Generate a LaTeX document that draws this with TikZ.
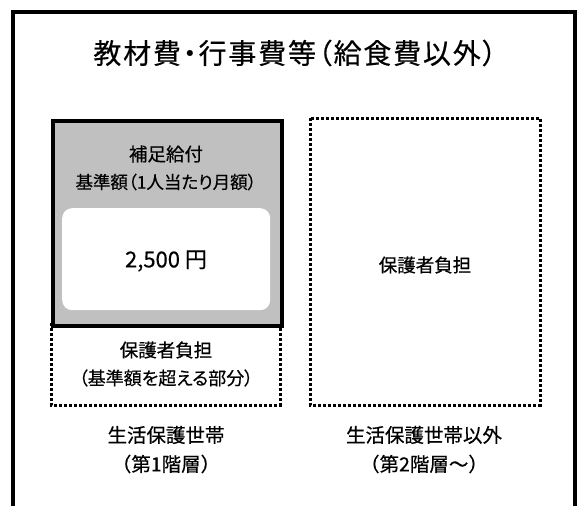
\documentclass[tikz,border=0pt]{standalone}
\usepackage{fontspec}
\setmainfont[FakeBold=0.4]{Noto Sans CJK JP}
\newfontfamily\paltfont[FakeBold=0.4,RawFeature=+palt]{Noto Sans CJK JP}
\newcommand\tsp{\hspace{1.8pt}}
\begin{document}
\begin{tikzpicture}[x=1pt,y=-1pt,
  txt/.style={font=\fontsize{18.5}{22}\selectfont, align=center, inner sep=0pt},
  ptxt/.style={font=\paltfont\fontsize{18}{22}\selectfont, align=center, inner sep=0pt},
  btxt/.style={font=\fontsize{19.5}{23}\selectfont, align=center, inner sep=0pt},
  dotline/.style={line width=3pt, dash pattern=on 3pt off 2pt},
  thickline/.style={line width=3.5pt}]
\useasboundingbox (0,0) rectangle (582,506);
% outer frame (open at bottom)
\draw[line width=4.5pt] (13,506) -- (13,12) -- (575,12) -- (575,506);
\node[inner sep=0pt, font=\paltfont\fontsize{28}{32}\selectfont] (title) at (295,53) {教\tsp 材\tsp 費\tsp ・\tsp 行\tsp 事\tsp 費\tsp 等\tsp （\tsp 給\tsp 食\tsp 費\tsp 以\tsp 外\tsp ）};
% left boxes
\draw[dotline] (51,323) -- (51,405) -- (280,405) -- (280,323);
\node[draw, thickline, fill={rgb,255:red,192;green,192;blue,192}, minimum width=229pt, minimum height=205pt, inner sep=0pt, anchor=north west] (grey) at (51,119) {};
\node[fill=white, rounded corners=10pt, minimum width=208pt, minimum height=102pt, inner sep=0pt, anchor=north west] (val) at (62,208) {};
\node[txt] (t1) at (166,154) {補足給付};
\node[ptxt, font=\paltfont\fontsize{17.5}{21}\selectfont] (t2) at (166,182) {基準額（1人当たり月額）};
\node[inner sep=0pt, font=\fontsize{22}{26}\selectfont] (t3) at (166,261) {2,500 円};
\node[txt] (t4) at (166,350) {保護者負担};
\node[ptxt] (t5) at (166,378) {（基準額を超える部分）};
% right box
\draw[dotline] (310,118) rectangle (540,405);
\node[txt] (r1) at (425,265) {保護者負担};
% bottom labels
\node[btxt] (b1) at (166,435) {生活保護世帯};
\node[btxt] (b2) at (166,464) {（第1階層）};
\node[btxt] (b3) at (424,435) {生活保護世帯以外};
\node[btxt] (b4) at (424,464) {（第2階層～）};
\end{tikzpicture}
\end{document}
